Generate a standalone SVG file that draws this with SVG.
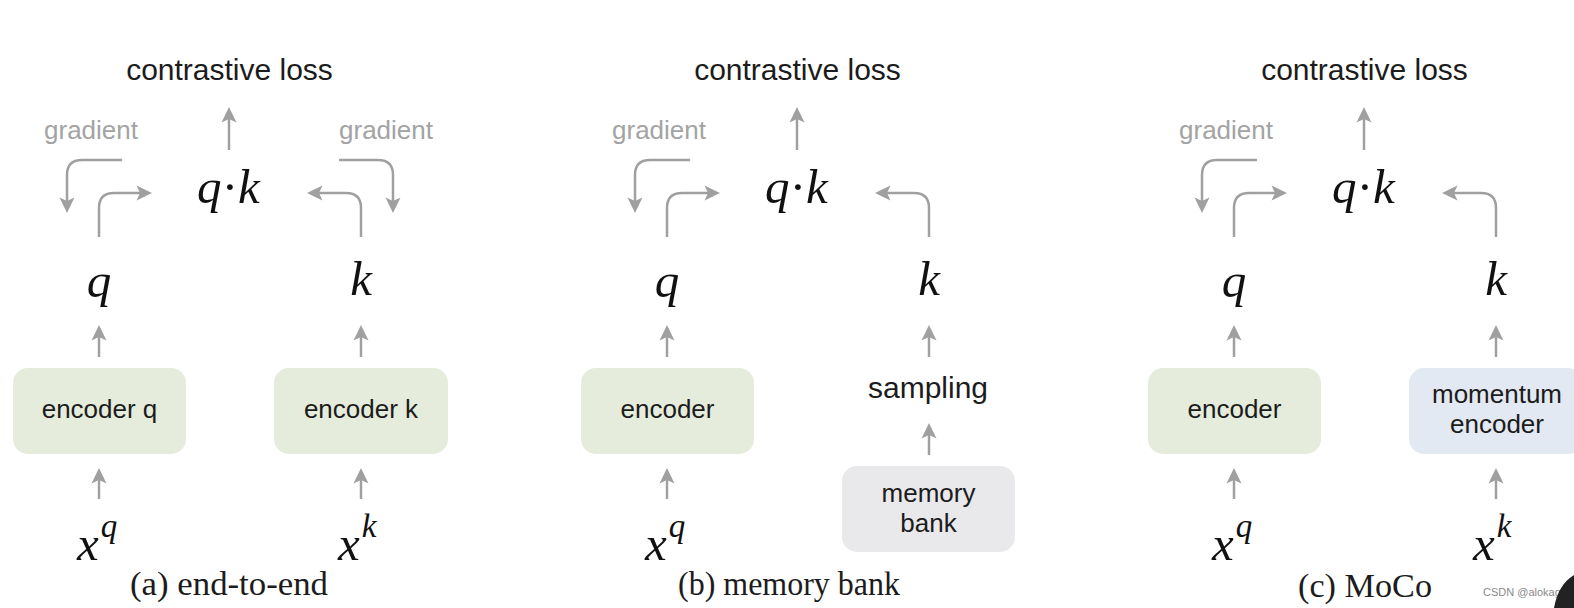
<svg xmlns="http://www.w3.org/2000/svg" width="1574" height="608" viewBox="0 0 1574 608">
<style>
.title{font-family:"Liberation Sans",Arial,sans-serif;font-size:30px;fill:#1c1c1c;text-anchor:middle}
.grad{font-family:"Liberation Sans",Arial,sans-serif;font-size:26px;fill:#a3a3a3;text-anchor:middle}
.lbl{font-family:"Liberation Sans",Arial,sans-serif;font-size:26px;fill:#1c1c1c;text-anchor:middle}
.math{font-family:"Liberation Serif","Times New Roman",serif;font-style:italic;font-size:49px;fill:#111}
.dot{font-family:"Liberation Serif","Times New Roman",serif;font-size:49px;fill:#111;text-anchor:middle}
.cap{font-family:"Liberation Serif","Times New Roman",serif;font-size:34px;fill:#1c1c1c}
.arr{fill:none;stroke:#a0a0a0;stroke-width:2.5;marker-end:url(#ah)}
.green{fill:#e5ecdb}
.gray{fill:#e9e8eb}
.blue{fill:#e2e9f2}
</style>
<defs>
<marker id="ah" viewBox="0 0 16 16" refX="6" refY="8" markerWidth="16" markerHeight="16" markerUnits="userSpaceOnUse" orient="auto">
<path d="M0.5,0.5 L16,8 L0.5,15.5 L4,8 Z" fill="#a0a0a0"/>
</marker>
</defs>
<rect width="1574" height="608" fill="#ffffff"/>

<!-- Panel (a) end-to-end -->
<g id="panel-a">
  <g id="a-connectors">
    <path class="arr" d="M229,150 V117"/>
    <path class="arr" d="M122,160 H82 Q67,160 67,175 V203"/>
    <path class="arr" d="M99,237 V208 Q99,193 114,193 H142"/>
    <path class="arr" d="M361,237 V208 Q361,193 346,193 H317"/>
    <path class="arr" d="M339,160 H378 Q393,160 393,175 V203"/>
    <path class="arr" d="M99,357 V335"/>
    <path class="arr" d="M99,499 V478"/>
    <path class="arr" d="M361,357 V335"/>
    <path class="arr" d="M361,499 V478"/>
  </g>
  <g id="a-loss"><text class="title" x="229.5" y="80">contrastive loss</text></g>
  <g id="a-grad-q"><text class="grad" x="91" y="139">gradient</text></g>
  <g id="a-grad-k"><text class="grad" x="386" y="139">gradient</text></g>
  <g id="a-qk"><text class="math" x="197" y="203">q</text><text class="dot" x="230" y="203">·</text><text class="math" x="238" y="203">k</text></g>
  <g id="a-q"><text class="math" x="99" y="297" text-anchor="middle">q</text></g>
  <g id="a-k"><text class="math" x="361" y="295" text-anchor="middle">k</text></g>
  <g id="a-enc-q"><rect class="green" x="13" y="368" width="173" height="86" rx="15"/><text class="lbl" x="99.5" y="418">encoder q</text></g>
  <g id="a-enc-k"><rect class="green" x="274" y="368" width="174" height="86" rx="15"/><text class="lbl" x="361" y="418">encoder k</text></g>
  <g id="a-xq"><text class="math" x="77" y="560">x<tspan font-size="33" dx="2" dy="-23">q</tspan></text></g>
  <g id="a-xk"><text class="math" x="338" y="560">x<tspan font-size="33" dx="2" dy="-23">k</tspan></text></g>
  <g id="a-caption"><text class="cap" x="130" y="595" textLength="198" lengthAdjust="spacingAndGlyphs">(a) end-to-end</text></g>
</g>

<!-- Panel (b) memory bank -->
<g id="panel-b" transform="translate(568,0)">
  <g id="b-connectors">
    <path class="arr" d="M229,150 V117"/>
    <path class="arr" d="M122,160 H82 Q67,160 67,175 V203"/>
    <path class="arr" d="M99,237 V208 Q99,193 114,193 H142"/>
    <path class="arr" d="M361,237 V208 Q361,193 346,193 H317"/>
    <path class="arr" d="M99,357 V335"/>
    <path class="arr" d="M99,499 V478"/>
    <path class="arr" d="M361,357 V335"/>
    <path class="arr" d="M361,455 V433"/>
  </g>
  <g id="b-loss"><text class="title" x="229.5" y="80">contrastive loss</text></g>
  <g id="b-grad-q"><text class="grad" x="91" y="139">gradient</text></g>
  <g id="b-qk"><text class="math" x="197" y="203">q</text><text class="dot" x="230" y="203">·</text><text class="math" x="238" y="203">k</text></g>
  <g id="b-q"><text class="math" x="99" y="297" text-anchor="middle">q</text></g>
  <g id="b-k"><text class="math" x="361" y="295" text-anchor="middle">k</text></g>
  <g id="b-enc"><rect class="green" x="13" y="368" width="173" height="86" rx="15"/><text class="lbl" x="99.5" y="418">encoder</text></g>
  <g id="b-sampling"><text class="title" x="360" y="398">sampling</text></g>
  <g id="b-memory"><rect class="gray" x="274" y="466" width="173" height="86" rx="15"/><text class="lbl" x="360.5" y="502">memory</text><text class="lbl" x="360.5" y="532">bank</text></g>
  <g id="b-xq"><text class="math" x="77" y="560">x<tspan font-size="33" dx="2" dy="-23">q</tspan></text></g>
  <g id="b-caption"><text class="cap" x="110" y="595" textLength="222" lengthAdjust="spacingAndGlyphs">(b) memory bank</text></g>
</g>

<!-- Panel (c) MoCo -->
<g id="panel-c" transform="translate(1135,0)">
  <g id="c-connectors">
    <path class="arr" d="M229,150 V117"/>
    <path class="arr" d="M122,160 H82 Q67,160 67,175 V203"/>
    <path class="arr" d="M99,237 V208 Q99,193 114,193 H142"/>
    <path class="arr" d="M361,237 V208 Q361,193 346,193 H317"/>
    <path class="arr" d="M99,357 V335"/>
    <path class="arr" d="M99,499 V478"/>
    <path class="arr" d="M361,357 V335"/>
    <path class="arr" d="M361,499 V478"/>
  </g>
  <g id="c-loss"><text class="title" x="229.5" y="80">contrastive loss</text></g>
  <g id="c-grad-q"><text class="grad" x="91" y="139">gradient</text></g>
  <g id="c-qk"><text class="math" x="197" y="203">q</text><text class="dot" x="230" y="203">·</text><text class="math" x="238" y="203">k</text></g>
  <g id="c-q"><text class="math" x="99" y="297" text-anchor="middle">q</text></g>
  <g id="c-k"><text class="math" x="361" y="295" text-anchor="middle">k</text></g>
  <g id="c-enc"><rect class="green" x="13" y="368" width="173" height="86" rx="15"/><text class="lbl" x="99.5" y="418">encoder</text></g>
  <g id="c-momentum"><rect class="blue" x="274" y="368" width="174" height="86" rx="15"/><text class="lbl" x="362" y="403">momentum</text><text class="lbl" x="362" y="433">encoder</text></g>
  <g id="c-xq"><text class="math" x="77" y="560">x<tspan font-size="33" dx="2" dy="-23">q</tspan></text></g>
  <g id="c-xk"><text class="math" x="338" y="560">x<tspan font-size="33" dx="2" dy="-23">k</tspan></text></g>
  <g id="c-caption"><text class="cap" x="163" y="597" textLength="134" lengthAdjust="spacingAndGlyphs">(c) MoCo</text></g>
</g>

<g id="watermark">
  <text x="1483" y="596" font-family="'Liberation Sans',Arial,sans-serif" font-size="11" fill="#8a8a8a">CSDN @alokag</text>
  <path d="M1574,575 C1563,582 1557,592 1554,608 L1574,608 Z" fill="#222"/>
</g>
</svg>
